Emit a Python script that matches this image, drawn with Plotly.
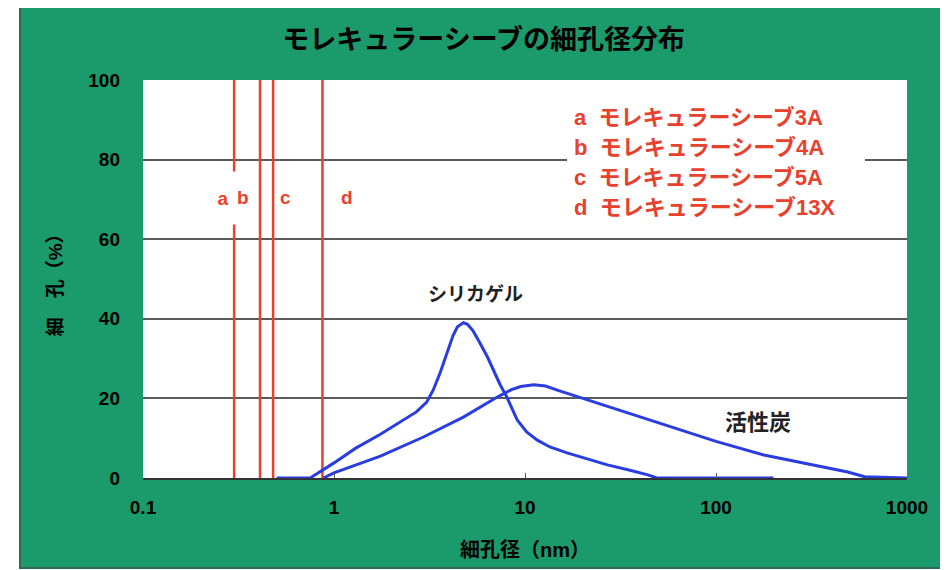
import math
import plotly.graph_objects as go

# ---- data ----
silica_x = [0.5, 0.75, 1.0, 1.3, 1.75, 2.3, 2.7, 3.05, 3.3, 3.6, 3.94, 4.2, 4.43, 4.76, 5.0, 5.34, 5.8, 6.36, 7.4, 8.0, 9.1, 10.2, 11.6, 13.5, 16.6, 21, 27, 35, 44, 49, 200]
silica_y = [0, 0, 3.8, 7.5, 11, 14.5, 16.6, 19, 22, 26.5, 32, 35.8, 38, 39, 38.6, 37, 34, 30.4, 23.5, 20.5, 14.6, 11.6, 9.5, 7.8, 6.3, 4.8, 3.3, 2, 0.8, 0, 0]

carbon_x = [0.88, 1.0, 1.75, 2.94, 4.76, 7.2, 8.5, 9.5, 11.1, 12.8, 14.9, 24, 40, 65, 100, 178, 325, 490, 600, 1000]
carbon_y = [0, 1.3, 5.5, 10.3, 15.3, 20.4, 22.2, 23, 23.4, 23.1, 22, 18.8, 15.3, 12, 9.2, 5.8, 3.3, 1.5, 0.3, 0]

sieve_letters = ["a", "b", "c", "d"]
sieve_pores = [0.3, 0.41, 0.48, 0.87]
sieve_names = ["モレキュラーシーブ3A", "モレキュラーシーブ4A", "モレキュラーシーブ5A", "モレキュラーシーブ13X"]
legend_y = [90.5, 83, 75.5, 68]
letter_y = 70.4

x_ticks = [0.1, 1, 10, 100, 1000]
x_ticklabels = ["0.1", "1", "10", "100", "1000"]
y_ticks = [0, 20, 40, 60, 80, 100]

title_text = "モレキュラーシーブの細孔径分布"
x_title = "細孔径（nm）"
y_title = "細　孔（%）"
curve_labels = ["シリカゲル", "活性炭"]
curve_label_pos = [(5.5, 46), (166, 14)]

RED = "#e8412e"
BLUE = "#2a3de0"
GREEN = "#1b9a6b"
FONT = "Liberation Sans, Noto Sans CJK JP, sans-serif"

fig = go.Figure()

for px in sieve_pores:
    fig.add_trace(go.Scatter(x=[px, px], y=[0, 100], mode="lines",
                             line=dict(color=RED, width=2.5), showlegend=False, hoverinfo="skip"))

fig.add_trace(go.Scatter(x=silica_x, y=silica_y, mode="lines", line=dict(color=BLUE, width=3),
                         showlegend=False))
fig.add_trace(go.Scatter(x=carbon_x, y=carbon_y, mode="lines", line=dict(color=BLUE, width=3),
                         showlegend=False))

shapes = [
    # green frame
    dict(type="rect", xref="paper", yref="paper", x0=-0.161, x1=1.051, y0=-0.226, y1=1.19,
         fillcolor=GREEN, line=dict(color="#2f6b52", width=2), layer="below"),
    # white plot area
    dict(type="rect", xref="paper", yref="paper", x0=0, x1=1, y0=0, y1=1,
         fillcolor="white", line=dict(width=0), layer="below"),
    # white legend box
    dict(type="rect", xref="paper", yref="paper", x0=0.555, x1=0.945, y0=0.64, y1=0.94,
         fillcolor="white", line=dict(width=0), layer="above"),
]

annotations = []
# letter labels near lines
letter_shift = [-11, -17, 12, 25]
for i, (lt, px) in enumerate(zip(sieve_letters, sieve_pores)):
    ann = dict(x=math.log10(px), y=letter_y, xref="x", yref="y", text=lt, showarrow=False,
               xshift=letter_shift[i], font=dict(family=FONT, size=19, color=RED, weight="bold"))
    if i == 0:
        ann.update(bgcolor="white", width=30, height=50)
    annotations.append(ann)

# legend text
for lt, name, ly in zip(sieve_letters, sieve_names, legend_y):
    annotations.append(dict(x=0.5615, y=ly, xref="paper", yref="y", xanchor="left",
                            text=lt + "  " + name, showarrow=False,
                            font=dict(family=FONT, size=22, color=RED, weight="bold")))

# curve labels
for lab, (lx, ly), fs in zip(curve_labels, curve_label_pos, [19, 22]):
    annotations.append(dict(x=math.log10(lx), y=ly, xref="x", yref="y", text=lab, showarrow=False,
                            font=dict(family=FONT, size=fs, color="#222222", weight="bold")))

# axis titles
annotations.append(dict(x=0.5, y=-0.181, xref="paper", yref="paper", text=x_title, showarrow=False,
                        xanchor="center", yanchor="middle",
                        font=dict(family=FONT, size=20, color="black", weight="bold")))
annotations.append(dict(x=-0.115, y=0.497, xref="paper", yref="paper", text=y_title, showarrow=False,
                        xanchor="center", yanchor="middle",
                        textangle=-90, font=dict(family=FONT, size=19, color="black", weight="bold")))

fig.update_layout(
    width=940, height=562,
    margin=dict(l=135, r=41, t=72, b=92),
    paper_bgcolor="white",
    plot_bgcolor="white",
    title=dict(text=title_text, x=0.506, xanchor="center", y=0.944, yanchor="middle",
               font=dict(family=FONT, size=27, color="black", weight="bold")),
    shapes=shapes,
    annotations=annotations,
    showlegend=False,
)

fig.update_xaxes(type="log", range=[-1, 3], tickvals=x_ticks, ticktext=x_ticklabels,
                 showgrid=False, zeroline=False, showline=True, linecolor="#333333", linewidth=1.5,
                 ticks="inside", ticklen=5, tickcolor="#555555",
                 ticklabelstandoff=11,
                 tickfont=dict(family=FONT, size=19, color="black", weight="bold"))
fig.update_yaxes(range=[0, 100], tickvals=y_ticks, showgrid=True, gridcolor="#5a5a5a", gridwidth=1.5,
                 zeroline=False, ticklabelstandoff=22,
                 tickfont=dict(family=FONT, size=19, color="black", weight="bold"))

fig.write_html("out.html")
